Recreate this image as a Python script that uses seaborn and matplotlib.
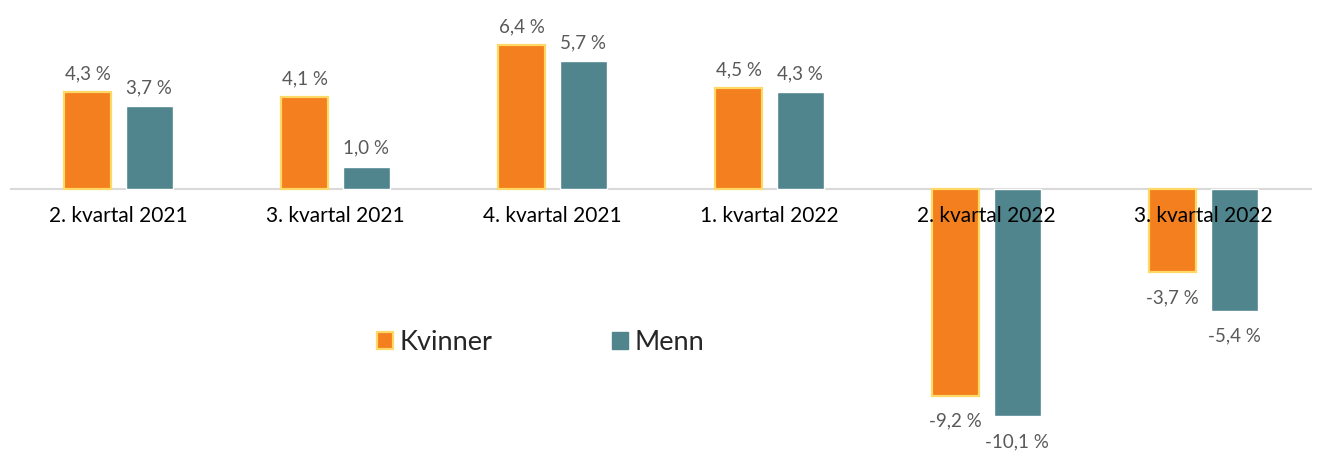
import matplotlib
matplotlib.use("Agg")
import matplotlib.pyplot as plt
import seaborn as sns
import pandas as pd
from matplotlib.patches import Patch

# data
kvartaler = ["2. kvartal 2021", "3. kvartal 2021", "4. kvartal 2021",
             "1. kvartal 2022", "2. kvartal 2022", "3. kvartal 2022"]
kvinner = [4.3, 4.1, 6.4, 4.5, -9.2, -3.7]
menn = [3.7, 1.0, 5.7, 4.3, -10.1, -5.4]
serier = ["Kvinner", "Menn"]

orange = "#F47F1E"
teal = "#50858D"
gul = "#FFD966"

df = pd.DataFrame({
    "kvartal": kvartaler * 2,
    "verdi": kvinner + menn,
    "kjonn": [serier[0]] * len(kvartaler) + [serier[1]] * len(kvartaler),
})

sns.set_style("white")
plt.rcParams['font.family'] = ['Lato', 'DejaVu Sans']

fig = plt.figure(figsize=(13.19, 4.53), dpi=100)
ax = fig.add_axes([0.0076, 0.0, 0.987, 1.0])

sns.barplot(data=df, x="kvartal", y="verdi", hue="kjonn",
            palette=[orange, teal], saturation=1, width=0.57, gap=0.23,
            legend=False, ax=ax, zorder=2)

# yellow edge on the orange bars
for p in ax.containers[0]:
    p.set_edgecolor(gul)
    p.set_linewidth(1.6)

# value labels
for cont in ax.containers:
    for p in cont:
        v = p.get_height()
        x = p.get_x() + p.get_width() / 2
        txt = f"{v:.1f}".replace(".", ",") + " %"
        if v >= 0:
            ax.annotate(txt, (x, v), xytext=(0, 7), textcoords="offset points",
                        ha="center", va="bottom", fontsize=13.5, color="#595959")
        else:
            ax.annotate(txt, (x, v), xytext=(0, -12), textcoords="offset points",
                        ha="center", va="top", fontsize=13.5, color="#595959")

# zero line and category labels
ax.axhline(0, color="#D9D9D9", lw=1.5, zorder=1)
for i, k in enumerate(kvartaler):
    ax.text(i, -1.2, k, ha="center", va="center", fontsize=15,
            color="black", zorder=5)

ax.set_xlim(-0.5, 5.5)
ax.set_ylim(-11.73, 8.4)
ax.set_xticks([])
ax.set_yticks([])
ax.set_xlabel("")
ax.set_ylabel("")
for s in ax.spines.values():
    s.set_visible(False)

handles = [Patch(facecolor=orange, edgecolor=gul, linewidth=1.6, label=serier[0]),
           Patch(facecolor=teal, edgecolor=teal, label=serier[1])]
fig.legend(handles=handles, loc="center", bbox_to_anchor=(0.41, 0.243),
           ncol=2, frameon=False, fontsize=19.5, handlelength=0.6,
           handleheight=0.6, handletextpad=0.25, columnspacing=4.4)

fig.savefig("out.png", dpi=100)
